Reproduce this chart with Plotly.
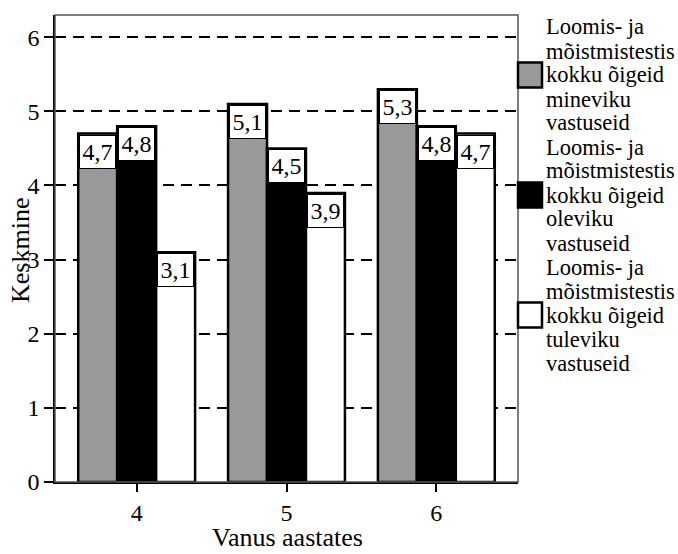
import plotly.graph_objects as go

# Mean correct answers by age, per tense category
ages = [4, 5, 6]
series_names = [
    "Loomis- ja mõistmistestis kokku õigeid mineviku vastuseid",
    "Loomis- ja mõistmistestis kokku õigeid oleviku vastuseid",
    "Loomis- ja mõistmistestis kokku õigeid tuleviku vastuseid",
]
legend_lines = [
    ["Loomis- ja", "mõistmistestis", "kokku õigeid", "mineviku", "vastuseid"],
    ["Loomis- ja", "mõistmistestis", "kokku õigeid", "oleviku", "vastuseid"],
    ["Loomis- ja", "mõistmistestis", "kokku õigeid", "tuleviku", "vastuseid"],
]
past = [4.7, 5.1, 5.3]
present = [4.8, 4.5, 4.8]
future = [3.1, 3.9, 4.7]
y_ticks = [0, 1, 2, 3, 4, 5, 6]

series_values = [past, present, future]
fills = ["#999999", "#000000", "#ffffff"]

FONT = "Liberation Serif"
W, H = 678, 554
ML, MR, MT, MB = 55, 160, 15, 72
PW = W - ML - MR
PH = H - MT - MB
BAR_W = 0.26
X_RANGE = [3.455, 6.545]
Y_RANGE = [0, 6.3]


def px_x(px):
    return (px - ML) / PW


def px_y(py):
    return (H - MB - py) / PH


fig = go.Figure()
for name, vals, col in zip(series_names, series_values, fills):
    fig.add_trace(go.Bar(
        x=ages, y=vals, name=name, width=BAR_W,
        marker=dict(color=col, line=dict(color="black", width=2.5)),
        showlegend=False,
    ))

# value boxes at the top of each bar
n = len(series_values)
for i, vals in enumerate(series_values):
    off = (i - (n - 1) / 2) * BAR_W
    for a, v in zip(ages, vals):
        fig.add_annotation(
            x=a + off, y=v, xref="x", yref="y",
            text=f"{v:.1f}".replace(".", ","),
            showarrow=False, yanchor="top", xanchor="center", yshift=-1,
            font=dict(family=FONT, size=24, color="black"),
            bgcolor="white", bordercolor="black", borderwidth=1,
            borderpad=0, width=35, height=32,
        )

# plot frame
fig.add_shape(type="rect", xref="paper", yref="paper", x0=0, x1=1, y0=0, y1=1,
              line=dict(color="#555555", width=1.5), layer="above")

# legend drawn by hand: swatch + stacked text lines
line_h = 24
for k, (col, lines) in enumerate(zip(fills, legend_lines)):
    cy = 75 + k * 120
    fig.add_shape(type="rect", xref="paper", yref="paper",
                  x0=px_x(518), x1=px_x(542), y0=px_y(cy + 12.5), y1=px_y(cy - 12.5),
                  fillcolor=col, line=dict(color="black", width=2.5))
    for j, t in enumerate(lines):
        ly = cy + (j - 2) * line_h
        fig.add_annotation(
            x=px_x(544), y=px_y(ly), xref="paper", yref="paper",
            text=t, showarrow=False, xanchor="left", yanchor="middle",
            font=dict(family=FONT, size=22.5, color="black"),
        )

# axis titles
fig.add_annotation(x=px_x(20), y=px_y(251), xref="paper", yref="paper",
                   text="Keskmine", textangle=-90, showarrow=False,
                   xanchor="center", yanchor="middle",
                   font=dict(family=FONT, size=26, color="black"))
fig.add_annotation(x=px_x(287), y=px_y(537), xref="paper", yref="paper",
                   text="Vanus aastates", showarrow=False,
                   xanchor="center", yanchor="middle",
                   font=dict(family=FONT, size=26, color="black"))

fig.update_layout(
    width=W, height=H,
    margin=dict(l=ML, r=MR, t=MT, b=MB, autoexpand=False),
    paper_bgcolor="white", plot_bgcolor="white",
    barmode="group", bargap=0.22, bargroupgap=0,
    font=dict(family=FONT, size=22, color="black"),
    showlegend=False,
)
fig.update_xaxes(
    range=X_RANGE, tickvals=ages, ticktext=[str(a) for a in ages],
    ticks="outside", ticklen=8, tickwidth=1.5, tickcolor="black",
    showline=True, linecolor="black", linewidth=1.5,
    showgrid=False, zeroline=False, automargin=False,
    tickfont=dict(family=FONT, size=24, color="black"),
)
fig.update_yaxes(
    range=Y_RANGE, tickvals=y_ticks,
    ticks="outside", ticklen=9, tickwidth=1.5, tickcolor="black",
    showline=True, linecolor="black", linewidth=1.5,
    showgrid=True, gridcolor="black", gridwidth=1.5, griddash="11px,7px",
    zeroline=False, automargin=False,
    tickfont=dict(family=FONT, size=24, color="black"),
)

fig.write_html("out.html")
